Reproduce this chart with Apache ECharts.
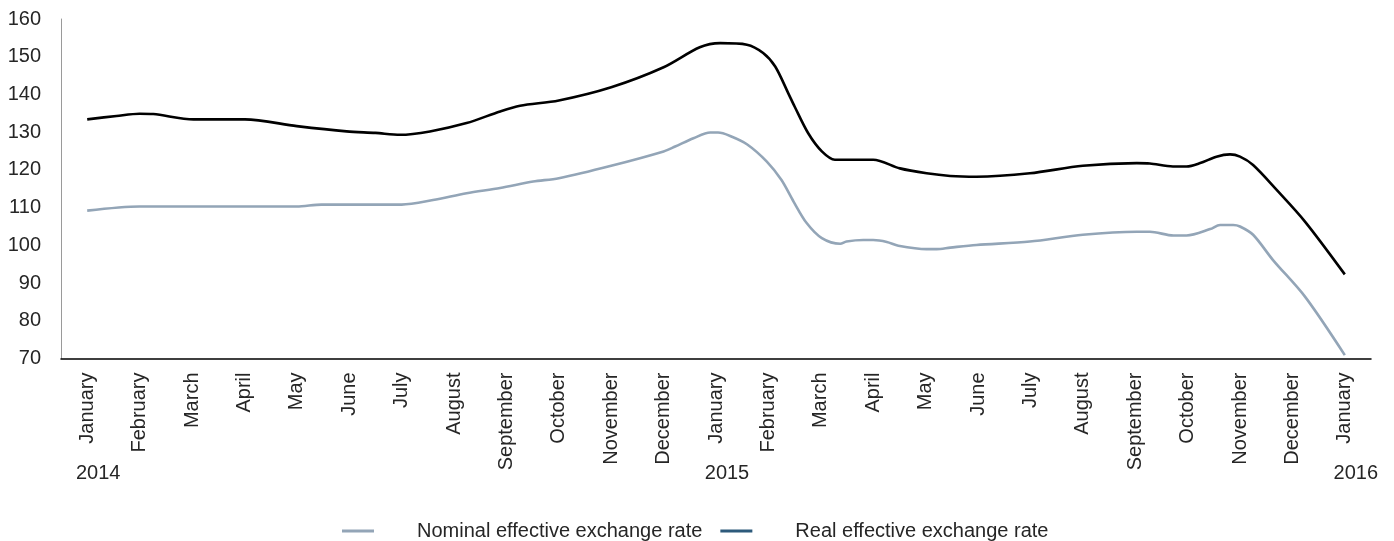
<!DOCTYPE html>
<html>
<head>
<meta charset="utf-8">
<script src="https://cdn.jsdelivr.net/npm/echarts@6/dist/echarts.min.js"></script>
<style>
html,body{margin:0;padding:0;background:#fff;}
#chart{width:1394px;height:541px;}
</style>
</head>
<body>
<div id="chart"></div>
<script>
var months = ['January','February','March','April','May','June','July','August','September','October','November','December',
  'January','February','March','April','May','June','July','August','September','October','November','December','January'];
var yearLabels = ['2014','','','','','','','','','','','','2015','','','','','','','','','','','','2016'];
var yTicks = {min: 70, max: 160, interval: 10};

// [month index, value]
var nominalRate = [
  [0,109.2],[1,110.3],[2,110.3],[3,110.3],[4,110.3],[4.47,110.8],[4.95,110.8],[6,110.8],[6.6,112.0],[7.24,113.8],
  [7.88,115.2],[8.51,116.9],[9,117.8],[10,121.1],[11,124.9],[11.22,126.2],[11.57,128.4],[11.89,129.9],[12.04,129.9],
  [12.27,129.0],[12.59,126.8],[12.97,122.2],[13.25,117.3],[13.48,111.6],[13.73,105.9],[14.02,101.9],[14.37,100.4],
  [14.49,101.0],[14.81,101.4],[15,101.4],[15.26,100.9],[15.48,99.9],[16.02,99.0],[16.21,99.0],[16.47,99.4],
  [16.97,100.1],[17.99,101.0],[19,102.8],[20.03,103.6],[20.28,103.6],[20.73,102.6],[20.98,102.6],[21.43,104.3],
  [21.62,105.4],[21.87,105.4],[22,105.0],[22.25,102.8],[22.63,96.1],[23.24,86.4],[24,70.9]
];
var realRate = [
  [0,133.4],[0.56,134.3],[1,134.9],[1.26,134.8],[2.03,133.4],[3.01,133.4],[4,131.6],[4.95,130.2],[5.5,129.8],[5.97,129.3],
  [6.54,130.2],[7.24,132.4],[7.88,135.5],[8.26,137.0],[9,138.4],[10,141.9],[11,147.2],[11.69,152.5],[12.08,153.6],
  [12.59,153.2],[12.9,151.0],[13.13,147.4],[13.38,140.3],[13.5,136.8],[13.76,129.7],[14.02,124.9],[14.27,122.7],
  [15,122.7],[15.51,120.4],[16.02,119.1],[16.47,118.4],[16.97,118.2],[17.99,119.1],[19,121.1],[20.03,121.8],
  [20.28,121.7],[20.72,120.9],[20.98,120.9],[21.24,121.8],[21.55,123.5],[21.81,124.1],[22,123.5],[22.25,121.3],
  [22.7,114.7],[23.24,106.3],[24,92.3]
];
var seriesNames = ['Nominal effective exchange rate','Real effective exchange rate'];

var textColor = '#262626';
var chart = echarts.init(document.getElementById('chart'), null, {renderer:'canvas'});
chart.setOption({
  animation: false,
  backgroundColor: '#ffffff',
  textStyle: {fontFamily: 'Liberation Sans, Arial, sans-serif'},
  grid: {left: 61, right: 23, top: 19, bottom: 182.5, containLabel: false},
  legend: {
    left: 337, top: 516,
    icon: 'rect', itemWidth: 32, itemHeight: 3, itemGap: 18,
    textStyle: {fontSize: 20, color: textColor, padding: [0,0,0,38]},
    data: [
      {name: seriesNames[0], itemStyle: {color: '#93a5b7'}},
      {name: seriesNames[1], itemStyle: {color: '#2d5a7b'}}
    ]
  },
  xAxis: [
    {
      type: 'category', data: months, boundaryGap: true, position: 'bottom',
      axisLine: {show: true, onZero: false, lineStyle: {color: '#000', width: 1.5}},
      axisTick: {show: false},
      axisLabel: {rotate: 90, interval: 0, fontSize: 20, color: textColor, margin: 14}
    },
    {
      type: 'value', min: -0.5, max: 24.5, show: false
    },
    {
      type: 'category', data: yearLabels, boundaryGap: true, position: 'bottom',
      axisLine: {show: false, onZero: false}, axisTick: {show: false},
      axisLabel: {interval: 0, fontSize: 20, color: textColor, margin: 105,
        formatter: function (v) { return v ? '{y|' + v + '}' : ''; },
        rich: {y: {fontSize: 20, color: textColor, padding: [0,0,0,22]}}
      }
    }
  ],
  yAxis: {
    type: 'value', min: yTicks.min, max: yTicks.max, interval: yTicks.interval,
    axisLine: {show: true, onZero: false, lineStyle: {color: '#9a9a9a', width: 1}},
    axisTick: {show: false},
    splitLine: {show: false},
    axisLabel: {fontSize: 20, color: textColor, margin: 20}
  },
  series: [
    {
      name: seriesNames[0], type: 'line', xAxisIndex: 1, data: nominalRate,
      showSymbol: false, smooth: 0.3,
      lineStyle: {color: '#93a5b7', width: 2.6}, itemStyle: {color: '#93a5b7'}
    },
    {
      name: seriesNames[1], type: 'line', xAxisIndex: 1, data: realRate,
      showSymbol: false, smooth: 0.3,
      lineStyle: {color: '#000000', width: 2.6}, itemStyle: {color: '#2d5a7b'}
    }
  ]
});
</script>
</body>
</html>
